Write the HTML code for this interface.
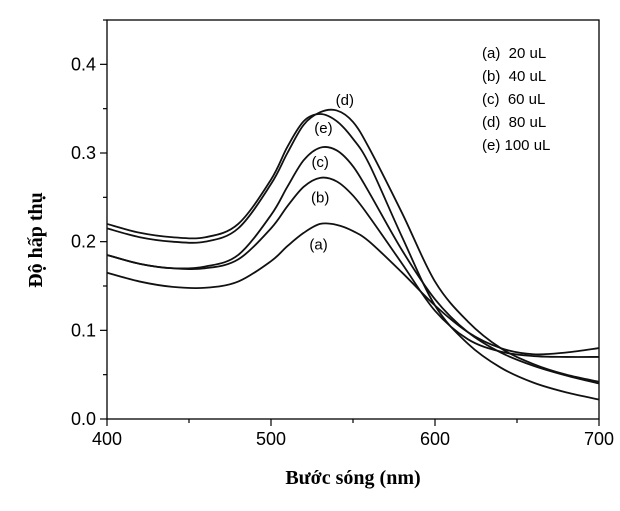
<!DOCTYPE html>
<html><head><meta charset="utf-8"><style>
body{margin:0;background:#fff;}
svg{display:block;font-family:"Liberation Sans",sans-serif;}
</style></head><body>
<svg id="chart" width="620" height="511">
<rect x="0" y="0" width="620" height="511" fill="#fff"/>
<g id="axes"></g>
<g id="series"></g>
<text x="42" y="240" transform="rotate(-90 42 240)" text-anchor="middle" font-family="Liberation Serif, serif" font-weight="bold" font-size="20">Độ hấp thụ</text>
<text x="353" y="484" text-anchor="middle" font-family="Liberation Serif, serif" font-weight="bold" font-size="20">Bước sóng (nm)</text>
<g font-size="15">
<text x="482" y="58">(a)&#160;&#160;20 uL</text>
<text x="482" y="81">(b)&#160;&#160;40 uL</text>
<text x="482" y="104">(c)&#160;&#160;60 uL</text>
<text x="482" y="127">(d)&#160;&#160;80 uL</text>
<text x="482" y="150">(e) 100 uL</text>
</g>
</svg>
<script>
const wavelengths=[400,420,440,460,480,500,510,520,530,540,550,560,580,600,620,640,660,680,700];
const seriesA=[0.165,0.155,0.149,0.148,0.155,0.178,0.195,0.210,0.220,0.219,0.212,0.200,0.165,0.128,0.098,0.080,0.073,0.075,0.080];
const seriesB=[0.185,0.175,0.170,0.170,0.180,0.215,0.240,0.262,0.272,0.268,0.252,0.228,0.175,0.122,0.090,0.076,0.071,0.070,0.070];
const seriesC=[0.185,0.175,0.170,0.172,0.185,0.230,0.262,0.292,0.306,0.303,0.285,0.255,0.190,0.135,0.098,0.075,0.060,0.049,0.040];
const seriesD=[0.215,0.205,0.200,0.200,0.215,0.265,0.300,0.332,0.346,0.348,0.335,0.305,0.232,0.155,0.110,0.080,0.062,0.050,0.042];
const seriesE=[0.220,0.210,0.205,0.205,0.220,0.270,0.307,0.336,0.344,0.336,0.316,0.287,0.205,0.128,0.085,0.058,0.041,0.030,0.022];
const seriesNames=["a","b","c","d","e"];
const curveLabels=[["(a)",529,0.197],["(b)",530,0.25],["(c)",530,0.29],["(d)",545,0.36],["(e)",532,0.328]];
const xTicks=[400,500,600,700];
const yTicks=[0.0,0.1,0.2,0.3,0.4];
const X0=107,X1=599,Y0=419,Y1=20;
const xs=v=>X0+(v-400)/300*(X1-X0);
const ys=v=>Y0-v/0.45*(Y0-Y1);
const NS="http://www.w3.org/2000/svg";
function mk(tag,attrs,parent){const e=document.createElementNS(NS,tag);for(const k in attrs)e.setAttribute(k,attrs[k]);parent.appendChild(e);return e;}
const ax=document.getElementById('axes');
const frame=mk('rect',{x:X0,y:Y1,width:X1-X0,height:Y0-Y1,fill:'none',stroke:'#000','stroke-width':1.3},ax);


for(let v=400;v<=700;v+=50){const major=v%100===0;const t=mk('line',{x1:xs(v),x2:xs(v),y1:Y0,y2:Y0+(major?7:4),stroke:'#000','stroke-width':1.2},ax);

}
xTicks.forEach(v=>{const t=mk('text',{x:xs(v),y:Y0+26,'text-anchor':'middle','font-size':18},ax);t.textContent=v;

});
for(let i=0;i<=9;i++){const v=i*0.05;const major=i%2===0;const t=mk('line',{x1:X0,x2:X0-(major?7:4),y1:ys(v),y2:ys(v),stroke:'#000','stroke-width':1.2},ax);

}
yTicks.forEach(v=>{const t=mk('text',{x:X0-11,y:ys(v)+6,'text-anchor':'end','font-size':18},ax);t.textContent=v.toFixed(1);

});
function path(vals){const p=wavelengths.map((w,i)=>[xs(w),ys(vals[i])]);let d=`M${p[0][0]},${p[0][1]}`;
for(let i=0;i<p.length-1;i++){const p0=p[Math.max(i-1,0)],p1=p[i],p2=p[i+1],p3=p[Math.min(i+2,p.length-1)];
d+=` C${p1[0]+(p2[0]-p0[0])/6},${p1[1]+(p2[1]-p0[1])/6} ${p2[0]-(p3[0]-p1[0])/6},${p2[1]-(p3[1]-p1[1])/6} ${p2[0]},${p2[1]}`;}return d;}
const sg=document.getElementById('series');
[seriesA,seriesB,seriesC,seriesD,seriesE].forEach((s,i)=>{const l=mk('path',{d:path(s),fill:'none',stroke:'#111','stroke-width':1.8},sg);

});
curveLabels.forEach(c=>{const t=mk('text',{x:xs(c[1]),y:ys(c[2])+5,'text-anchor':'middle','font-size':15,fill:'#000'},sg);t.textContent=c[0];

});
</script>
</body></html>
